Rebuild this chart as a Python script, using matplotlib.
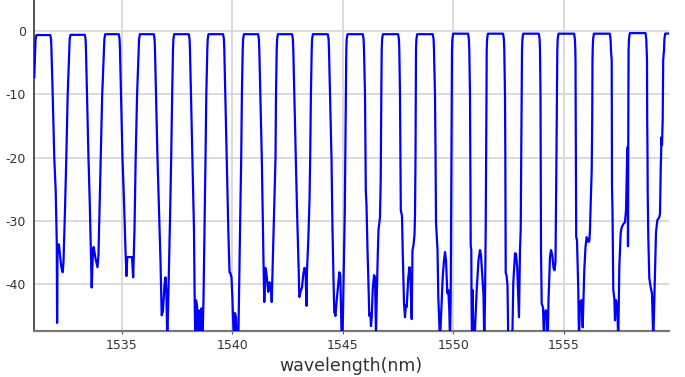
import matplotlib
matplotlib.use("Agg")
import matplotlib.pyplot as plt

plt.rcParams['axes.unicode_minus'] = False
plt.rcParams['font.family'] = ['DejaVu Sans']

# Transmission spectrum (wavelength in nm, power in dB)
wavelength_nm = [
    1531.054,
    # channel 1
    1531.094, 1531.112, 1531.148, 1531.777, 1531.813, 1531.831,
    1531.886, 1531.958, 1532.021, 1532.071, 1532.085, 1532.107, 1532.171, 1532.216,
    1532.284, 1532.338, 1532.374, 1532.442, 1532.501, 1532.564,
    # channel 2
    1532.636, 1532.654, 1532.690, 1533.337, 1533.373, 1533.391,
    1533.436, 1533.504, 1533.559, 1533.604, 1533.649, 1533.708, 1533.739, 1533.821,
    1533.911, 1533.956, 1534.024, 1534.056, 1534.124,
    # channel 3
    1534.205, 1534.223, 1534.259, 1534.874, 1534.910, 1534.928,
    1534.974, 1535.041, 1535.109, 1535.177, 1535.222, 1535.258, 1535.380, 1535.471,
    1535.525, 1535.584, 1535.638, 1535.701,
    # channel 4
    1535.774, 1535.792, 1535.828, 1536.457, 1536.493, 1536.511,
    1536.556, 1536.624, 1536.692, 1536.759, 1536.814, 1536.872, 1536.940, 1536.985,
    1537.022, 1537.067, 1537.121, 1537.189, 1537.243, 1537.288,
    # channel 5
    1537.325, 1537.343, 1537.379, 1538.039, 1538.075, 1538.093,
    1538.138, 1538.206, 1538.274, 1538.306, 1538.333, 1538.364, 1538.410, 1538.441,
    1538.477, 1538.523, 1538.560, 1538.614, 1538.659, 1538.704, 1538.750, 1538.795,
    1538.831,
    # channel 6
    1538.876, 1538.894, 1538.930, 1539.591, 1539.627, 1539.645,
    1539.690, 1539.758, 1539.826, 1539.880, 1539.916, 1539.970, 1540.015, 1540.038,
    1540.083, 1540.128, 1540.174, 1540.205, 1540.242, 1540.278, 1540.332, 1540.377,
    1540.409, 1540.440,
    # channel 7
    1540.477, 1540.495, 1540.531, 1541.173, 1541.209, 1541.227,
    1541.272, 1541.340, 1541.385, 1541.417, 1541.453, 1541.498, 1541.544, 1541.598,
    1541.634, 1541.679, 1541.720, 1541.756, 1541.788, 1541.878, 1541.960, 1541.982,
    # channel 8
    1542.014, 1542.032, 1542.068, 1542.710, 1542.746, 1542.764,
    1542.810, 1542.877, 1542.945, 1543.008, 1543.036, 1543.090, 1543.157, 1543.216,
    1543.271, 1543.316, 1543.361, 1543.384, 1543.442, 1543.497, 1543.528, 1543.560,
    # channel 9
    1543.596, 1543.614, 1543.650, 1544.324, 1544.360, 1544.378,
    1544.423, 1544.491, 1544.536, 1544.582, 1544.618, 1544.672, 1544.726, 1544.772,
    1544.844, 1544.889, 1544.952, 1544.989, 1545.043, 1545.093, 1545.115, 1545.138,
    # channel 10
    1545.160, 1545.178, 1545.214, 1545.907, 1545.943, 1545.961,
    1546.006, 1546.029, 1546.042, 1546.074, 1546.119, 1546.155, 1546.200, 1546.246,
    1546.277, 1546.313, 1546.354, 1546.413, 1546.458, 1546.503, 1546.535, 1546.580,
    1546.616, 1546.684, 1546.716, 1546.729, 1546.743,
    # channel 11
    1546.761, 1546.779, 1546.815, 1547.503, 1547.539, 1547.557,
    1547.588, 1547.611, 1547.624, 1547.678, 1547.710, 1547.769, 1547.814, 1547.850,
    1547.891, 1547.963, 1548.018, 1548.063, 1548.117, 1548.153, 1548.198, 1548.244,
    1548.266, 1548.289, 1548.302,
    # channel 12
    1548.311, 1548.329, 1548.365, 1549.071, 1549.107, 1549.125,
    1549.170, 1549.193, 1549.216, 1549.261, 1549.284, 1549.320, 1549.365, 1549.397,
    1549.442, 1549.519, 1549.577, 1549.623, 1549.668, 1549.727, 1549.772, 1549.817,
    1549.849, 1549.880, 1549.903, 1549.917, 1549.930,
    # channel 13
    1549.939, 1549.957, 1549.993, 1550.667, 1550.703, 1550.721,
    1550.753, 1550.766, 1550.785, 1550.812, 1550.821, 1550.843, 1550.875, 1550.902,
    1550.956, 1551.056, 1551.137, 1551.205, 1551.250, 1551.318, 1551.363, 1551.399,
    1551.431, 1551.463, 1551.485, 1551.499,
    # channel 14
    1551.508, 1551.526, 1551.562, 1552.249, 1552.285, 1552.303,
    1552.335, 1552.349, 1552.367, 1552.403, 1552.448, 1552.484, 1552.539, 1552.584,
    1552.665, 1552.710, 1552.787, 1552.832, 1552.887, 1552.936, 1552.968, 1553.013,
    1553.045, 1553.072, 1553.090,
    # channel 15
    1553.104, 1553.122, 1553.158, 1553.864, 1553.900, 1553.918,
    1553.940, 1553.949, 1553.963, 1553.994, 1554.053, 1554.098, 1554.130, 1554.175,
    1554.220, 1554.266, 1554.302, 1554.370, 1554.415, 1554.474, 1554.528, 1554.573,
    1554.618, 1554.641, 1554.664, 1554.686,
    # channel 16
    1554.700, 1554.718, 1554.754, 1555.460, 1555.496, 1555.514,
    1555.523, 1555.532, 1555.545, 1555.554, 1555.590, 1555.649, 1555.681, 1555.726,
    1555.794, 1555.848, 1555.884, 1555.920, 1555.975, 1556.029, 1556.101, 1556.147,
    1556.178, 1556.210, 1556.255, 1556.278, 1556.291,
    # channel 17
    1556.300, 1556.318, 1556.354, 1557.073, 1557.109, 1557.127,
    1557.159, 1557.164, 1557.173, 1557.195, 1557.231, 1557.277, 1557.308, 1557.353,
    1557.412, 1557.457, 1557.503, 1557.566, 1557.611, 1557.684, 1557.760, 1557.806,
    1557.837, 1557.864, 1557.887, 1557.896, 1557.905, 1557.914,
    # channel 18
    1557.923, 1557.941, 1557.977, 1558.687, 1558.723, 1558.741,
    1558.755, 1558.764, 1558.778, 1558.787, 1558.814, 1558.859, 1558.922, 1558.981,
    1559.040, 1559.085, 1559.130, 1559.162, 1559.221, 1559.311, 1559.343, 1559.374,
    1559.411, 1559.433, 1559.465, 1559.487,
    # channel 19
    1559.524, 1559.542, 1559.578, 1559.750,
]

power_db = [
    -7.3,
    # channel 1
    -3.0, -1.3, -0.64, -0.64, -1.3, -3.0,
    -10.07, -20.07, -25.13, -33.5, -46.1, -33.8, -33.7, -35.4,
    -37.4, -38.1, -36.5, -28.3, -20.07, -10.07,
    # channel 2
    -3.0, -1.3, -0.6, -0.6, -1.3, -3.0,
    -10.07, -20.07, -26.7, -34.0, -40.5, -34.6, -34.1, -35.9,
    -37.3, -35.4, -25.13, -20.07, -10.07,
    # channel 3
    -3.0, -1.3, -0.5, -0.5, -1.3, -3.0,
    -10.07, -20.07, -26.7, -34.6, -38.7, -35.7, -35.7, -35.7,
    -38.9, -31.4, -20.07, -10.07,
    # channel 4
    -3.0, -1.3, -0.5, -0.5, -1.3, -3.0,
    -10.07, -20.07, -28.3, -36.2, -44.9, -44.2, -40.1, -38.9,
    -40.9, -49.0, -40.9, -29.9, -20.07, -10.07,
    # channel 5
    -3.0, -1.3, -0.5, -0.5, -1.3, -3.0,
    -10.07, -20.07, -31.4, -42.5, -49.0, -42.5, -43.3, -49.0,
    -44.1, -44.9, -49.0, -43.8, -49.0, -42.5, -31.4, -20.07,
    -10.07,
    # channel 6
    -3.0, -1.3, -0.5, -0.5, -1.3, -3.0,
    -10.07, -20.07, -31.4, -38.1, -38.2, -38.9, -42.5, -45.2,
    -49.0, -44.55, -45.3, -49.0, -47.2, -49.0, -36.2, -26.7,
    -20.07, -10.07,
    # channel 7
    -3.0, -1.3, -0.5, -0.5, -1.3, -3.0,
    -10.07, -20.07, -29.9, -36.5, -42.8, -37.4, -38.1, -40.1,
    -41.2, -39.7, -40.9, -39.8, -42.8, -30.8, -20.07, -10.07,
    # channel 8
    -3.0, -1.3, -0.5, -0.5, -1.3, -3.0,
    -10.07, -20.07, -29.9, -37.8, -42.0, -41.2, -40.5, -38.4,
    -37.4, -37.8, -43.4, -37.8, -33.0, -26.7, -20.07, -10.07,
    # channel 9
    -3.0, -1.3, -0.5, -0.5, -1.3, -3.0,
    -10.07, -20.07, -31.4, -39.3, -44.4, -45.0, -42.5, -40.9,
    -38.1, -38.55, -49.0, -49.0, -37.8, -28.3, -20.07, -10.07,
    # channel 10
    -3.0, -1.3, -0.5, -0.5, -1.3, -3.0,
    -10.07, -18.81, -25.13, -27.5, -34.6, -38.9, -45.0, -44.55,
    -46.6, -45.0, -40.9, -38.55, -38.9, -48.0, -42.5, -35.7,
    -31.4, -29.4, -23.55, -15.65, -10.07,
    # channel 11
    -3.0, -1.3, -0.5, -0.5, -1.3, -3.0,
    -10.07, -23.55, -28.3, -29.2, -34.6, -43.0, -45.2, -43.3,
    -43.6, -38.9, -37.3, -39.3, -45.5, -34.6, -33.8, -32.2,
    -29.1, -20.07, -10.07,
    # channel 12
    -3.0, -1.3, -0.5, -0.5, -1.3, -3.0,
    -10.07, -18.81, -30.2, -33.0, -34.6, -42.0, -46.3, -49.0,
    -45.3, -38.9, -36.2, -34.9, -36.2, -41.4, -40.9, -44.1,
    -49.0, -42.5, -26.7, -18.81, -10.07,
    # channel 13
    -3.0, -1.3, -0.42, -0.42, -1.3, -3.0,
    -10.07, -18.81, -33.8, -34.6, -42.5, -49.0, -40.9, -49.0,
    -49.0, -40.9, -36.2, -34.6, -35.4, -39.3, -41.7, -49.0,
    -42.5, -31.1, -18.81, -10.07,
    # channel 14
    -3.0, -1.3, -0.42, -0.42, -1.3, -3.0,
    -10.07, -18.81, -38.2, -38.55, -40.1, -49.0, -48.0, -49.0,
    -49.0, -39.8, -35.1, -35.2, -37.3, -42.0, -45.2, -34.6,
    -31.4, -18.81, -10.07,
    # channel 15
    -3.0, -1.3, -0.42, -0.42, -1.3, -3.0,
    -10.07, -18.81, -34.6, -43.1, -43.6, -49.0, -44.9, -44.1,
    -44.4, -49.0, -42.5, -35.7, -34.6, -35.4, -37.4, -37.8,
    -36.5, -26.7, -18.81, -10.07,
    # channel 16
    -3.0, -1.3, -0.42, -0.42, -1.3, -3.0,
    -4.59, -14.07, -23.55, -32.55, -33.0, -40.9, -49.0, -42.8,
    -42.5, -46.8, -42.5, -37.8, -34.1, -32.55, -33.3, -33.2,
    -31.4, -27.2, -22.0, -14.07, -4.59,
    # channel 17
    -3.0, -1.3, -0.42, -0.42, -1.3, -3.0,
    -4.59, -14.07, -24.65, -28.3, -40.9, -42.2, -45.7, -42.5,
    -43.6, -49.0, -37.3, -31.9, -31.0, -30.5, -30.2, -28.3,
    -23.55, -18.81, -18.3, -34.0, -18.81, -10.07,
    # channel 18
    -3.0, -1.3, -0.33, -0.33, -1.3, -3.0,
    -4.59, -14.07, -19.28, -25.6, -32.55, -39.0, -40.5, -41.4,
    -49.0, -42.5, -36.2, -31.8, -29.9, -29.4, -28.8, -22.0,
    -16.76, -18.0, -14.07, -4.59,
    # channel 19
    -3.0, -1.3, -0.4, -0.4,
]

x_ticks = [1535, 1540, 1545, 1550, 1555]
y_ticks = [0, -10, -20, -30, -40]
x_label = "wavelength(nm)"

fig = plt.figure(figsize=(6.85, 3.77), dpi=100)
ax = fig.add_axes([0.0496, 0.1233, 0.9264, 0.8767])

ax.plot(wavelength_nm, power_db, color="#0000ff", lw=1.6, solid_joinstyle="round", zorder=3)

ax.set_xlim(1531.04, 1559.73)
ax.set_ylim(-47.3, 4.9)
ax.set_xticks(x_ticks)
ax.set_yticks(y_ticks)
ax.set_xticklabels([str(v) for v in x_ticks])
ax.set_yticklabels([str(v) for v in y_ticks])

ax.grid(True, color="#d4d4d4", lw=1.2, zorder=0)
ax.set_axisbelow(True)

for s in ("top", "right"):
    ax.spines[s].set_visible(False)
ax.spines["left"].set_color("#333333")
ax.spines["left"].set_linewidth(1.2)
ax.spines["bottom"].set_color("#777777")
ax.spines["bottom"].set_linewidth(1.6)

ax.tick_params(axis="x", length=2, width=0.8, color="#555555", pad=4,
               labelsize=9, labelcolor="#333333")
ax.tick_params(axis="y", length=0, pad=6, labelsize=9, labelcolor="#333333")

ax.set_xlabel(x_label, fontsize=12.5, color="#333333", labelpad=4)

fig.savefig("out.png", dpi=100)
